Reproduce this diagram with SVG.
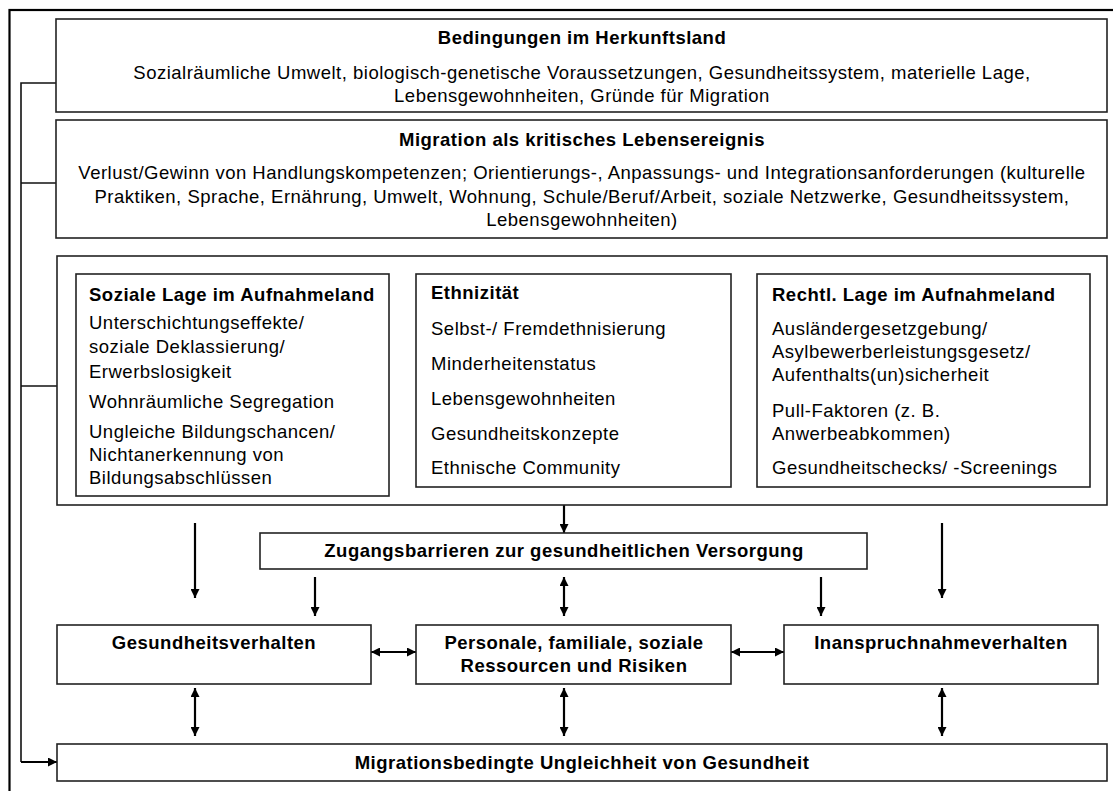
<svg xmlns="http://www.w3.org/2000/svg" width="1113" height="791" viewBox="0 0 1113 791">
  <style>
    .frame { fill: none; stroke: #000; stroke-width: 2.2; }
    .box { fill: #fff; stroke: #222; stroke-width: 1.6; }
    .t { font-family: "Liberation Sans", Arial, sans-serif; font-size: 18.5px; letter-spacing: 0.5px; fill: #000; }
    .b { font-weight: bold; }
    .c { text-anchor: middle; }
    .wire { fill: none; stroke: #111; stroke-width: 1.6; }
    .arr { fill: none; stroke: #000; stroke-width: 2.2; }
  </style>
  <defs>
    <marker id="head" viewBox="0 0 10 10" refX="10" refY="5" markerWidth="9" markerHeight="9" markerUnits="userSpaceOnUse" orient="auto-start-reverse">
      <path d="M0,0 L10,5 L0,10 Z" fill="#000"/>
    </marker>
  </defs>

  <rect width="1113" height="791" fill="#fff"/>
  <!-- outer frame, open to the right and bottom -->
  <rect class="frame" x="9.5" y="10" width="1140" height="820"/>

  <!-- connectors -->
  <g id="connectors">
    <!-- feedback bus on the left -->
    <polyline class="wire" points="56,83 21,83 21,762"/>
    <line class="wire" x1="21" y1="183" x2="56" y2="183"/>
    <line class="wire" x1="21" y1="386" x2="57" y2="386"/>
    <line class="arr" x1="21" y1="762" x2="57" y2="762" marker-end="url(#head)"/>

    <!-- into Ethnizität -->
    <line class="arr" x1="389" y1="376" x2="416" y2="376" marker-end="url(#head)"/>
    <line class="arr" x1="757" y1="377" x2="731" y2="377" marker-end="url(#head)"/>

    <!-- downward arrows -->
    <line class="arr" x1="195" y1="523" x2="195" y2="598" marker-end="url(#head)"/>
    <line class="arr" x1="942" y1="523" x2="942" y2="598" marker-end="url(#head)"/>
    <line class="arr" x1="564" y1="505" x2="564" y2="533" marker-end="url(#head)"/>
    <line class="arr" x1="315" y1="577" x2="315" y2="616" marker-end="url(#head)"/>
    <line class="arr" x1="821" y1="577" x2="821" y2="616" marker-end="url(#head)"/>

    <!-- two-way arrows -->
    <line class="arr" x1="564" y1="577" x2="564" y2="616" marker-start="url(#head)" marker-end="url(#head)"/>
    <line class="arr" x1="195" y1="688" x2="195" y2="736" marker-start="url(#head)" marker-end="url(#head)"/>
    <line class="arr" x1="564" y1="688" x2="564" y2="736" marker-start="url(#head)" marker-end="url(#head)"/>
    <line class="arr" x1="942" y1="688" x2="942" y2="736" marker-start="url(#head)" marker-end="url(#head)"/>
    <line class="arr" x1="371" y1="652" x2="416" y2="652" marker-start="url(#head)" marker-end="url(#head)"/>
    <line class="arr" x1="731" y1="652" x2="784" y2="652" marker-start="url(#head)" marker-end="url(#head)"/>
  </g>

  <g id="herkunftsland">
    <rect class="box" x="56" y="19" width="1051" height="93"/>
    <text class="t b c" x="582" y="44">Bedingungen im Herkunftsland</text>
    <text class="t c" x="582" y="79">Sozialräumliche Umwelt, biologisch-genetische Voraussetzungen, Gesundheitssystem, materielle Lage,</text>
    <text class="t c" x="582" y="102">Lebensgewohnheiten, Gründe für Migration</text>
  </g>

  <g id="migration">
    <rect class="box" x="56" y="120" width="1051" height="118"/>
    <text class="t b c" x="582" y="146">Migration als kritisches Lebensereignis</text>
    <text class="t c" x="582" y="179">Verlust/Gewinn von Handlungskompetenzen; Orientierungs-, Anpassungs- und Integrationsanforderungen (kulturelle</text>
    <text class="t c" x="582" y="203">Praktiken, Sprache, Ernährung, Umwelt, Wohnung, Schule/Beruf/Arbeit, soziale Netzwerke, Gesundheitssystem,</text>
    <text class="t c" x="582" y="226">Lebensgewohnheiten)</text>
  </g>

  <g id="aufnahmeland">
    <rect class="box" x="57" y="256" width="1050" height="249"/>
  </g>

  <g id="soziale-lage">
    <rect class="box" x="76" y="274" width="313" height="222"/>
    <text class="t b" x="89" y="301">Soziale Lage im Aufnahmeland</text>
    <text class="t" x="89" y="329">Unterschichtungseffekte/</text>
    <text class="t" x="89" y="353">soziale Deklassierung/</text>
    <text class="t" x="89" y="378">Erwerbslosigkeit</text>
    <text class="t" x="89" y="408">Wohnräumliche Segregation</text>
    <text class="t" x="89" y="438">Ungleiche Bildungschancen/</text>
    <text class="t" x="89" y="461">Nichtanerkennung von</text>
    <text class="t" x="89" y="484">Bildungsabschlüssen</text>
  </g>

  <g id="ethnizitaet">
    <rect class="box" x="416" y="274" width="315" height="213"/>
    <text class="t b" x="431" y="299">Ethnizität</text>
    <text class="t" x="431" y="335">Selbst-/ Fremdethnisierung</text>
    <text class="t" x="431" y="370">Minderheitenstatus</text>
    <text class="t" x="431" y="405">Lebensgewohnheiten</text>
    <text class="t" x="431" y="440">Gesundheitskonzepte</text>
    <text class="t" x="431" y="474">Ethnische Community</text>
  </g>

  <g id="rechtliche-lage">
    <rect class="box" x="757" y="274" width="333" height="213"/>
    <text class="t b" x="772" y="301">Rechtl. Lage im Aufnahmeland</text>
    <text class="t" x="772" y="335">Ausländergesetzgebung/</text>
    <text class="t" x="772" y="358">Asylbewerberleistungsgesetz/</text>
    <text class="t" x="772" y="381">Aufenthalts(un)sicherheit</text>
    <text class="t" x="772" y="417">Pull-Faktoren (z. B.</text>
    <text class="t" x="772" y="440">Anwerbeabkommen)</text>
    <text class="t" x="772" y="474">Gesundheitschecks/ -Screenings</text>
  </g>

  <g id="zugangsbarrieren">
    <rect class="box" x="260" y="533" width="607" height="36"/>
    <text class="t b c" x="564" y="557">Zugangsbarrieren zur gesundheitlichen Versorgung</text>
  </g>

  <g id="gesundheitsverhalten">
    <rect class="box" x="57" y="625" width="314" height="59"/>
    <text class="t b c" x="214" y="649">Gesundheitsverhalten</text>
  </g>

  <g id="ressourcen">
    <rect class="box" x="416" y="625" width="315" height="59"/>
    <text class="t b c" x="574" y="649">Personale, familiale, soziale</text>
    <text class="t b c" x="574" y="672">Ressourcen und Risiken</text>
  </g>

  <g id="inanspruchnahme">
    <rect class="box" x="784" y="625" width="314" height="59"/>
    <text class="t b c" x="941" y="649">Inanspruchnahmeverhalten</text>
  </g>

  <g id="ungleichheit">
    <rect class="box" x="57" y="744" width="1050" height="37"/>
    <text class="t b c" x="582" y="769">Migrationsbedingte Ungleichheit von Gesundheit</text>
  </g>
</svg>
